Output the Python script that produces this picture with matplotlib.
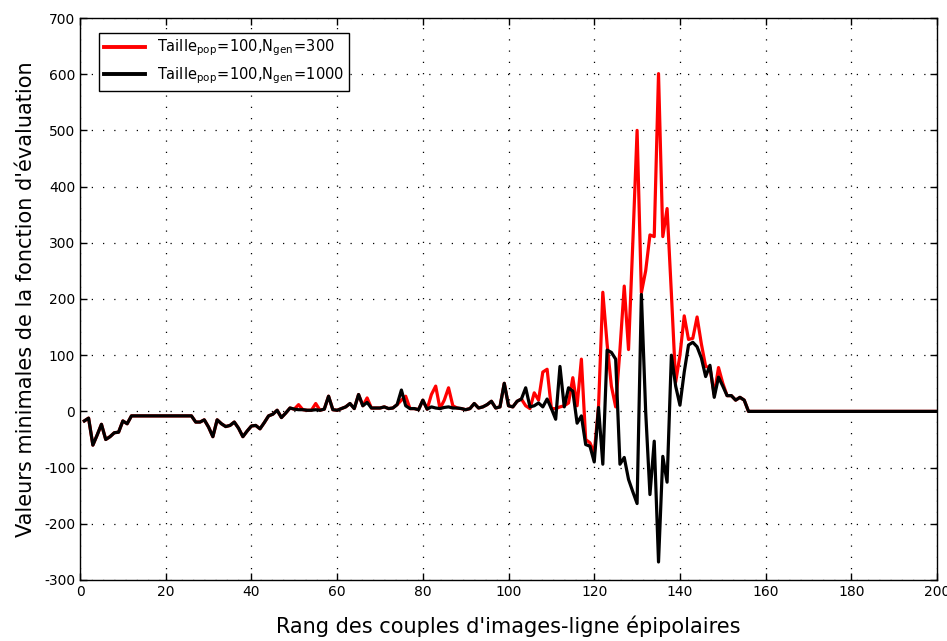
import matplotlib
matplotlib.use("Agg")
import matplotlib.pyplot as plt
import numpy as np

plt.rcParams['font.family'] = ['DejaVu Sans']
plt.rcParams['axes.unicode_minus'] = False

rang = list(range(1, 201))

# Minimal evaluation value per epipolar line-image pair, N_gen = 300
val_gen300 = [
    -17, -12, -60, -42, -23, -50, -45, -38, -37, -17,
    -22, -8, -8, -8, -8, -8, -8, -8, -8, -8,
    -8, -8, -8, -8, -8, -8, -19, -19, -15, -28,
    -45, -15, -22, -27, -25, -19, -30, -45, -35, -26,
    -25, -31, -20, -8, -5, 2, -11, -3, 6, 4,
    12, 3, 2, 2, 14, 2, 4, 27, 3, 2,
    5, 8, 14, 5, 30, 10, 24, 6, 6, 6,
    8, 5, 6, 12, 20, 27, 5, 5, 3, 20,
    4, 30, 45, 5, 20, 42, 10, 6, 5, 3,
    5, 14, 6, 8, 12, 18, 6, 8, 50, 10,
    8, 18, 22, 10, 5, 33, 20, 70, 75, 5,
    5, 8, 10, 15, 60, 10, 93, -50, -56, -74,
    8, 212, 120, 45, 8, 110, 223, 110, 300, 500,
    211, 250, 314, 311, 601, 311, 361, 210, 52, 100,
    170, 128, 130, 168, 120, 80, 78, 30, 78, 50,
    28, 28, 20, 25, 20, 0, 0, 0, 0, 0,
    0, 0, 0, 0, 0, 0, 0, 0, 0, 0,
    0, 0, 0, 0, 0, 0, 0, 0, 0, 0,
    0, 0, 0, 0, 0, 0, 0, 0, 0, 0,
    0, 0, 0, 0, 0, 0, 0, 0, 0, 0,
]

# Minimal evaluation value per epipolar line-image pair, N_gen = 1000
val_gen1000 = [
    -17, -12, -60, -42, -23, -50, -45, -38, -37, -17,
    -22, -8, -8, -8, -8, -8, -8, -8, -8, -8,
    -8, -8, -8, -8, -8, -8, -19, -19, -15, -28,
    -45, -15, -22, -27, -25, -19, -30, -45, -35, -26,
    -25, -31, -20, -8, -5, 2, -11, -3, 6, 4,
    3, 3, 2, 2, 3, 2, 4, 27, 3, 2,
    5, 8, 14, 5, 30, 10, 16, 6, 6, 6,
    8, 5, 6, 12, 38, 10, 5, 5, 3, 20,
    4, 8, 6, 5, 7, 8, 6, 6, 5, 3,
    5, 14, 6, 8, 12, 18, 6, 8, 50, 10,
    8, 18, 22, 42, 8, 10, 15, 8, 22, 5,
    -14, 80, 8, 42, 36, -21, -8, -59, -62, -90,
    7, -94, 109, 105, 93, -94, -82, -121, -143, -164,
    208, 0, -148, -53, -268, -80, -126, 100, 45, 11,
    70, 118, 123, 115, 95, 62, 82, 25, 61, 45,
    28, 28, 20, 25, 20, 0, 0, 0, 0, 0,
    0, 0, 0, 0, 0, 0, 0, 0, 0, 0,
    0, 0, 0, 0, 0, 0, 0, 0, 0, 0,
    0, 0, 0, 0, 0, 0, 0, 0, 0, 0,
    0, 0, 0, 0, 0, 0, 0, 0, 0, 0,
]

x_ticks = list(range(0, 201, 20))
y_ticks = list(range(-300, 701, 100))

label_300 = r'$\mathregular{Taille_{pop}\!=\!100{,}N_{gen}\!=\!300}$'
label_1000 = r'$\mathregular{Taille_{pop}\!=\!100{,}N_{gen}\!=\!1000}$'

fig = plt.figure(figsize=(9.47, 6.41), dpi=100)
ax = fig.add_axes([0.0845, 0.0952, 0.905, 0.8767])

ax.plot(rang, val_gen300, color='#ff0000', lw=2.3, label=label_300)
ax.plot(rang, val_gen1000, color='black', lw=2.3, label=label_1000)

ax.set_xlim(0, 200)
ax.set_ylim(-300, 700)
ax.set_xticks(x_ticks)
ax.set_yticks(y_ticks)
ax.tick_params(direction='in', top=True, right=True, labelsize=10, length=5, width=1)
ax.grid(True, linestyle=(0, (1, 8)), color='black', linewidth=0.9)
for s in ax.spines.values():
    s.set_linewidth(1)

ax.set_xlabel("Rang des couples d'images-ligne épipolaires", fontsize=15, labelpad=12)
ax.set_ylabel("Valeurs minimales de la fonction d'évaluation", fontsize=15, labelpad=6)

leg = ax.legend(loc='upper left', bbox_to_anchor=(0.014, 0.987), fontsize=10.5,
                frameon=True, fancybox=False, edgecolor='black', framealpha=1,
                handlelength=2.8, borderpad=0.35, labelspacing=0.5, handletextpad=0.8)
leg.get_frame().set_linewidth(1)
for line in leg.get_lines():
    line.set_linewidth(2.8)

fig.savefig('out.png', dpi=100)
